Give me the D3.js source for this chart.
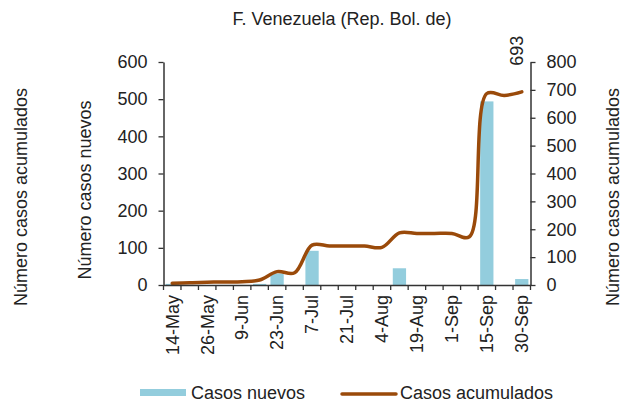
<!DOCTYPE html>
<html>
<head>
<meta charset="utf-8">
<script src="https://cdn.jsdelivr.net/npm/d3@7"></script>
<style>
  html, body { margin: 0; padding: 0; background: #fff; }
  svg { display: block; font-family: "Liberation Sans", Arial, sans-serif; }
  text { fill: #222; }
</style>
</head>
<body>
<svg id="chart" width="622" height="404"></svg>
<script>
// Weekly reporting dates
const categories = ["14-May","20-May","26-May","2-Jun","9-Jun","16-Jun","23-Jun","30-Jun",
  "7-Jul","14-Jul","21-Jul","28-Jul","4-Aug","11-Aug","19-Aug","25-Aug",
  "1-Sep","8-Sep","15-Sep","22-Sep","30-Sep"];
// New cases per period (left axis)
const newCases = [3,0,0,0,0,3,31,0,92,0,0,0,0,45,0,0,0,0,494,0,16];
// Cumulative cases (right axis)
const cumCases = [6,8,10,11,12,18,48,44,143,140,140,140,135,187,185,185,185,173,687,680,693];
const leftTicks = [0,100,200,300,400,500,600];
const rightTicks = [0,100,200,300,400,500,600,700,800];
const shownLabels = categories.filter((d, i) => i % 2 === 0);

const title = "F. Venezuela (Rep. Bol. de)";
const leftTitle = "Número casos nuevos";
const cumTitle = "Número casos acumulados";
const legendBars = "Casos nuevos";
const legendLine = "Casos acumulados";

const BAR = "#93CDDD";
const LINE = "#9A4A0A";
const AXIS = "#333";
const FS = 18;

const svg = d3.select("#chart");
const plotLeft = 163.5, plotRight = 530.5, plotTop = 62, plotBottom = 285;

const x = d3.scaleBand().domain(categories).range([plotLeft, plotRight])
  .paddingInner(0.24).paddingOuter(0.12);
const yL = d3.scaleLinear().domain([0, 600]).range([plotBottom, plotTop]);
const yR = d3.scaleLinear().domain([0, 800]).range([plotBottom, plotTop]);
const cx = d => x(d) + x.bandwidth() / 2;

// Title
svg.append("text").attr("x", 342).attr("y", 25)
  .attr("text-anchor", "middle").attr("font-size", FS).text(title);

// Bars: new cases
svg.append("g").selectAll("rect").data(categories).join("rect")
  .attr("x", d => x(d))
  .attr("width", x.bandwidth())
  .attr("y", (d, i) => yL(newCases[i]))
  .attr("height", (d, i) => plotBottom - yL(newCases[i]))
  .attr("fill", BAR);

// Line: cumulative cases, smoothed
const line = d3.line()
  .x((d, i) => cx(categories[i]))
  .y(d => yR(d))
  .curve(d3.curveCatmullRom.alpha(0.5));
svg.append("path").datum(cumCases)
  .attr("d", line)
  .attr("fill", "none")
  .attr("stroke", LINE)
  .attr("stroke-width", 3.5)
  .attr("stroke-linecap", "round")
  .attr("stroke-linejoin", "round");

// Left axis
const gL = svg.append("g").attr("transform", `translate(${plotLeft},0)`)
  .call(d3.axisLeft(yL).tickValues(leftTicks).tickSize(5).tickPadding(11).tickSizeOuter(0));
// Right axis
const gR = svg.append("g").attr("transform", `translate(${plotRight},0)`)
  .call(d3.axisRight(yR).tickValues(rightTicks).tickSize(5).tickPadding(11).tickSizeOuter(0));
// Bottom axis with category labels on every other period
const gB = svg.append("g").attr("transform", `translate(0,${plotBottom})`)
  .call(d3.axisBottom(x).tickValues(shownLabels).tickSize(0).tickSizeOuter(0));
gB.selectAll("text")
  .attr("transform", "rotate(-90)")
  .attr("x", -10).attr("y", 0).attr("dy", "0.35em")
  .attr("text-anchor", "end");
// Tick marks at period boundaries
const step = x.step();
gB.append("g").selectAll("line").data(d3.range(categories.length + 1)).join("line")
  .attr("x1", i => plotLeft + i * step).attr("x2", i => plotLeft + i * step)
  .attr("y1", 0).attr("y2", 5)
  .attr("stroke", AXIS).attr("stroke-width", 1.3);

[gL, gR, gB].forEach(g => {
  g.selectAll(".domain").attr("stroke", AXIS).attr("stroke-width", 1.5);
  g.selectAll(".tick line").attr("stroke", AXIS).attr("stroke-width", 1.3);
  g.selectAll("text").attr("font-size", FS).attr("fill", "#222")
    .attr("font-family", "Liberation Sans, Arial, sans-serif");
});

// Value label on the last cumulative point
const last = cumCases.length - 1;
svg.append("text")
  .attr("transform", `translate(${cx(categories[last]) + 1},${yR(cumCases[last]) - 26}) rotate(-90)`)
  .attr("text-anchor", "start").attr("font-size", FS).text(cumCases[last]);

// Axis titles
svg.append("text").attr("transform", "translate(27,197) rotate(-90)")
  .attr("text-anchor", "middle").attr("font-size", FS).text(cumTitle);
svg.append("text").attr("transform", "translate(91,190) rotate(-90)")
  .attr("text-anchor", "middle").attr("font-size", FS).text(leftTitle);
svg.append("text").attr("transform", "translate(619,197) rotate(-90)")
  .attr("text-anchor", "middle").attr("font-size", FS).text(cumTitle);

// Legend
const lg = svg.append("g");
lg.append("rect").attr("x", 140).attr("y", 389).attr("width", 46).attr("height", 7).attr("fill", BAR);
lg.append("text").attr("x", 191).attr("y", 399).attr("font-size", FS).text(legendBars);
lg.append("line").attr("x1", 342).attr("x2", 396).attr("y1", 394).attr("y2", 394)
  .attr("stroke", LINE).attr("stroke-width", 3.5).attr("stroke-linecap", "round");
lg.append("text").attr("x", 400).attr("y", 399).attr("font-size", FS).text(legendLine);
</script>
</body>
</html>
